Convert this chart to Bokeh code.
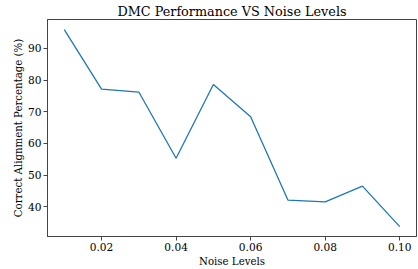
from bokeh.plotting import figure
from bokeh.models import Range1d, FixedTicker, ColumnDataSource
from bokeh.embed import file_html
from bokeh.resources import INLINE

noise_levels = [0.01, 0.02, 0.03, 0.04, 0.05, 0.06, 0.07, 0.08, 0.09, 0.10]
alignment_pct = [95.9, 77.1, 76.2, 55.3, 78.6, 68.4, 42.1, 41.5, 46.5, 33.7]
x_ticks = [0.02, 0.04, 0.06, 0.08, 0.10]
x_tick_labels = ["0.02", "0.04", "0.06", "0.08", "0.10"]
y_ticks = [40, 50, 60, 70, 80, 90]

FONT = "DejaVu Serif"

p = figure(width=418, height=269, output_backend="svg", toolbar_location=None,
           x_range=Range1d(0.0055, 0.1045), y_range=Range1d(30.6, 99.1),
           title="DMC Performance VS Noise Levels",
           min_border_left=47, min_border_right=2, min_border_top=17, min_border_bottom=32)
p.margin = (0, 0, 0, 0)

src = ColumnDataSource(dict(x=noise_levels, y=alignment_pct))
p.line("x", "y", source=src, line_color="#1f77b4", line_width=1.3)

p.title.text_font = FONT
p.title.text_font_size = "12.8px"
p.title.text_font_style = "normal"
p.title.align = "center"
p.title.text_color = "black"
p.title.standoff = 2

p.xgrid.visible = False
p.ygrid.visible = False
p.outline_line_color = "#444444"
p.outline_line_width = 1
p.background_fill_color = "white"
p.border_fill_color = "white"

p.xaxis.ticker = FixedTicker(ticks=x_ticks)
p.xaxis.major_label_overrides = {t: l for t, l in zip(x_ticks, x_tick_labels)}
p.yaxis.ticker = FixedTicker(ticks=y_ticks)

for ax in (p.xaxis[0], p.yaxis[0]):
    ax.axis_line_color = "#444444"
    ax.major_tick_in = 0
    ax.major_tick_out = 4
    ax.major_tick_line_color = "#444444"
    ax.minor_tick_line_color = None
    ax.major_label_text_font = FONT
    ax.major_label_text_font_size = "10.6px"
    ax.major_label_text_color = "black"
    ax.axis_label_text_font = FONT
    ax.axis_label_text_font_size = "10.2px"
    ax.axis_label_text_font_style = "normal"
    ax.axis_label_text_color = "black"
    ax.major_label_standoff = 2

p.xaxis.axis_label = "Noise Levels"
p.yaxis.axis_label = "Correct Alignment Percentage (%)"
p.xaxis.axis_label_standoff = 2
p.yaxis.axis_label_standoff = 1

open("out.html", "w").write(file_html(p, INLINE))
